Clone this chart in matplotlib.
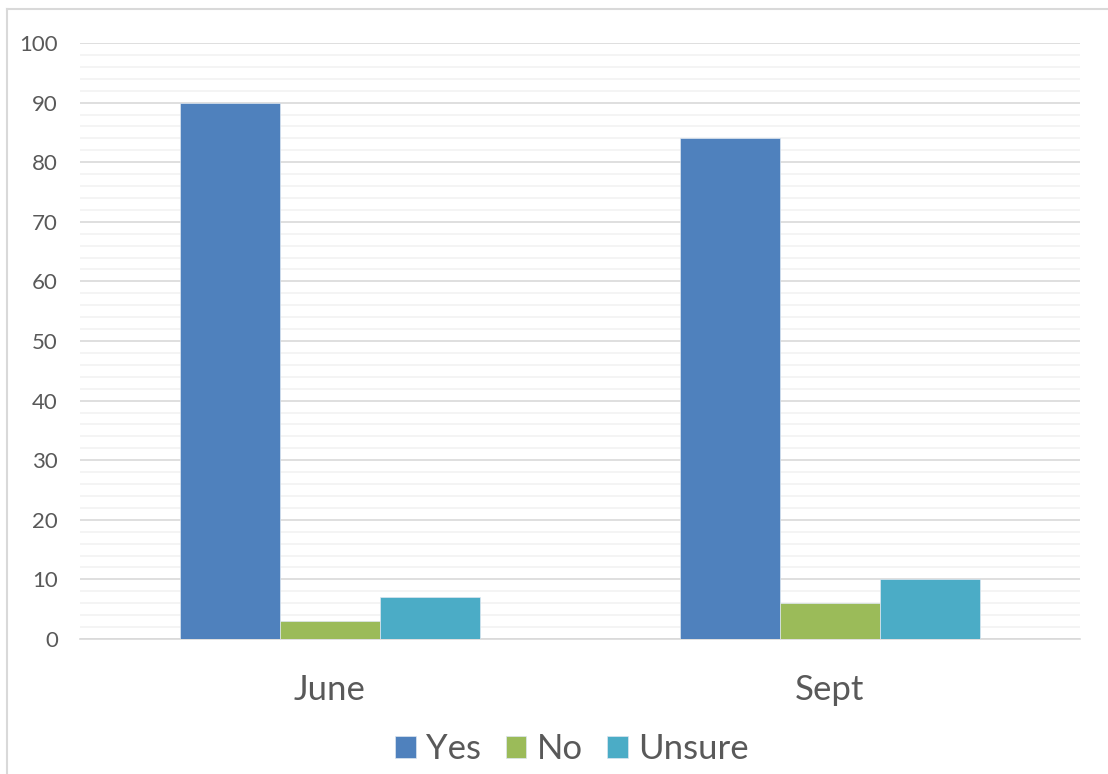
import numpy as np
import matplotlib

matplotlib.use("Agg")
import matplotlib.pyplot as plt
from matplotlib.lines import Line2D
from matplotlib.ticker import MultipleLocator

categories = ["June", "Sept"]
yes = [90, 84]
no = [3, 6]
unsure = [7, 10]
series_names = ["Yes", "No", "Unsure"]
series_colors = ["#4F81BD", "#9BBB59", "#4BACC6"]

W, H = 1108, 774
plt.rcParams["font.family"] = ["Lato", "DejaVu Sans"]
text_color = "#595959"

fig = plt.figure(figsize=(W / 100, H / 100), dpi=100)
ax = fig.add_axes([80 / W, (H - 639) / H, 1000 / W, 596 / H])

x = np.arange(len(categories))
width = 0.2
for i, (name, values, color) in enumerate(zip(series_names, [yes, no, unsure], series_colors)):
    ax.bar(x + (i - 1) * width, values, width, color=color, label=name,
           edgecolor="#DDE6F0", linewidth=0.5, zorder=3)

ax.set_xlim(-0.5, 1.5)
ax.set_ylim(0, 100)
ax.yaxis.set_major_locator(MultipleLocator(10))
ax.yaxis.set_minor_locator(MultipleLocator(2))
ax.grid(axis="y", which="major", color="#D9D9D9", linewidth=1.2, zorder=1)
ax.grid(axis="y", which="minor", color="#F2F2F2", linewidth=1.2, zorder=0)

ax.set_xticks(x)
ax.set_xticklabels(categories)
ax.tick_params(axis="x", length=0, pad=25, labelsize=25, labelcolor=text_color)
ax.tick_params(axis="y", which="both", length=0, pad=16, labelsize=16, labelcolor=text_color)

for side in ["top", "right", "left"]:
    ax.spines[side].set_visible(False)
ax.spines["bottom"].set_color("#D9D9D9")
ax.spines["bottom"].set_linewidth(1.2)

# outer chart frame
fig.add_artist(Line2D([7 / W, 1], [(H - 9) / H, (H - 9) / H], transform=fig.transFigure,
                      color="#D9D9D9", linewidth=1.5))
fig.add_artist(Line2D([7 / W, 7 / W], [0, (H - 9) / H], transform=fig.transFigure,
                      color="#D9D9D9", linewidth=1.5))

leg = fig.legend(loc="center", bbox_to_anchor=(572 / W, (H - 749) / H), ncol=3,
                 frameon=False, fontsize=25, handlelength=0.6, handleheight=0.6,
                 handletextpad=0.3, columnspacing=0.7, labelcolor=text_color)

fig.savefig("out.png", dpi=100)
